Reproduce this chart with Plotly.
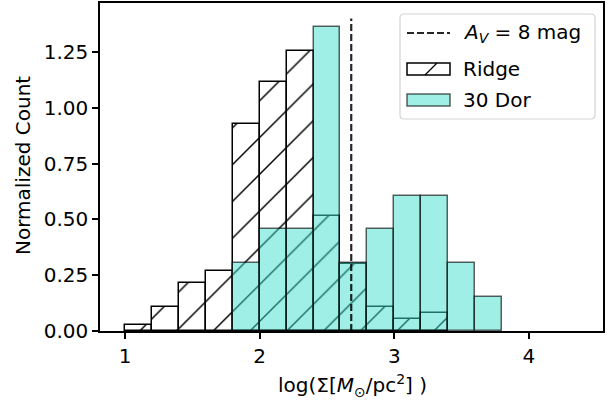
import plotly.graph_objects as go

# ---- data ----
bin_width = 0.2
ridge_bin_starts = [1.0, 1.2, 1.4, 1.6, 1.8, 2.0, 2.2, 2.4, 2.6, 2.8, 3.0, 3.2]
ridge_values = [0.027, 0.109, 0.217, 0.270, 0.927, 1.117, 1.257, 0.516, 0.300, 0.109, 0.053, 0.081]
dor_bin_starts = [1.8, 2.0, 2.2, 2.4, 2.6, 2.8, 3.0, 3.2, 3.4, 3.6]
dor_values = [0.303, 0.455, 0.455, 1.362, 0.303, 0.455, 0.606, 0.606, 0.303, 0.152]
av_line_x = 2.68
av_line_y = [0.0, 1.40]
x_tick_vals = [1, 2, 3, 4]
y_tick_vals = [0.0, 0.25, 0.50, 0.75, 1.00, 1.25]
x_range = [0.814, 4.55]
y_range = [0.0, 1.47]

FONT = "DejaVu Sans"
FS = 20

fig = go.Figure()

fig.add_trace(go.Bar(
    x=[s + bin_width / 2 for s in ridge_bin_starts],
    y=ridge_values,
    width=bin_width,
    name="Ridge",
    marker=dict(
        color="rgba(0,0,0,0)",
        line=dict(color="black", width=1.5),
        pattern=dict(shape="/", fgcolor="black", bgcolor="rgba(0,0,0,0)",
                     size=26, solidity=0.055, fillmode="replace"),
    ),
    showlegend=False,
))

fig.add_trace(go.Bar(
    x=[s + bin_width / 2 for s in dor_bin_starts],
    y=dor_values,
    width=bin_width,
    name="30 Dor",
    marker=dict(color="rgba(64,224,208,0.5)",
                line=dict(color="rgba(0,0,0,0.62)", width=1.5)),
    showlegend=False,
))

fig.add_trace(go.Scatter(
    x=[av_line_x, av_line_x],
    y=av_line_y,
    mode="lines",
    line=dict(color="rgba(0,0,0,0.85)", width=2.2, dash="7px,3px"),
    showlegend=False,
))

# ---- legend drawn by hand (paper px -> paper coords) ----
L, R, T, B = 100, 603, 3, 331
W, H = R - L, B - T


def px(x):
    return (x - L) / W


def py(y):
    return (B - y) / H


shapes = []
x0, x1, y0, y1 = 400, 595, 14, 119
r = 4
path = (f"M{px(x0 + r)},{py(y0)} L{px(x1 - r)},{py(y0)} Q{px(x1)},{py(y0)} {px(x1)},{py(y0 + r)} "
        f"L{px(x1)},{py(y1 - r)} Q{px(x1)},{py(y1)} {px(x1 - r)},{py(y1)} "
        f"L{px(x0 + r)},{py(y1)} Q{px(x0)},{py(y1)} {px(x0)},{py(y1 - r)} "
        f"L{px(x0)},{py(y0 + r)} Q{px(x0)},{py(y0)} {px(x0 + r)},{py(y0)} Z")
shapes.append(dict(type="path", xref="paper", yref="paper", path=path,
                   fillcolor="rgba(255,255,255,0.85)", line=dict(color="#d3d3d3", width=1.2)))
shapes.append(dict(type="line", xref="paper", yref="paper",
                   x0=px(407), x1=px(450), y0=py(33), y1=py(33),
                   line=dict(color="rgba(0,0,0,0.85)", width=2.2, dash="7px,3px")))
shapes.append(dict(type="rect", xref="paper", yref="paper",
                   x0=px(407), x1=px(450), y0=py(75), y1=py(63),
                   fillcolor="rgba(0,0,0,0)", line=dict(color="black", width=1.5)))
shapes.append(dict(type="line", xref="paper", yref="paper",
                   x0=px(425), x1=px(437), y0=py(75), y1=py(63),
                   line=dict(color="black", width=1.3)))
shapes.append(dict(type="rect", xref="paper", yref="paper",
                   x0=px(407), x1=px(450), y0=py(106), y1=py(94),
                   fillcolor="rgba(64,224,208,0.5)", line=dict(color="rgba(0,0,0,0.62)", width=1.5)))

annotations = []
for txt, yy in [("<i>A</i><sub><i>V</i></sub> = 8 mag", 33), ("Ridge", 69), ("30 Dor", 100)]:
    annotations.append(dict(text=txt, xref="paper", yref="paper", x=px(461), y=py(yy),
                            xanchor="left", yanchor="middle", showarrow=False,
                            font=dict(family=FONT, size=FS, color="black")))
# axis titles
annotations.append(dict(text="log(Σ[<i>M</i><sub>⊙</sub>/pc<sup>2</sup>] )", xref="paper", yref="paper",
                        x=px(352), y=py(385), xanchor="center", yanchor="middle", showarrow=False,
                        font=dict(family=FONT, size=FS, color="black")))
annotations.append(dict(text="Normalized Count", xref="paper", yref="paper",
                        x=px(23), y=py(166), xanchor="center", yanchor="middle", showarrow=False,
                        textangle=-90, font=dict(family=FONT, size=FS, color="black")))

fig.update_layout(
    width=608, height=400,
    margin=dict(l=L, r=608 - R, t=T, b=400 - B, autoexpand=False),
    paper_bgcolor="white", plot_bgcolor="white",
    barmode="overlay", bargap=0,
    font=dict(family=FONT, size=FS, color="black"),
    shapes=shapes, annotations=annotations,
    showlegend=False,
    xaxis=dict(range=x_range, tickvals=x_tick_vals, ticks="outside", ticklen=6, tickwidth=1.5,
               tickcolor="black", showline=True, linecolor="black", linewidth=1.5, mirror=True,
               showgrid=False, zeroline=False, automargin=False,
               tickfont=dict(size=FS)),
    yaxis=dict(range=y_range, tickvals=y_tick_vals, tickformat=".2f", ticks="outside", ticklen=6,
               tickwidth=1.5, tickcolor="black", showline=True, linecolor="black", linewidth=1.5,
               mirror=True, showgrid=False, zeroline=False, automargin=False,
               tickfont=dict(size=FS)),
)

fig.write_html("out.html", config={"displayModeBar": False},
               post_script="document.body.style.margin='0';document.body.style.overflow='hidden';")
